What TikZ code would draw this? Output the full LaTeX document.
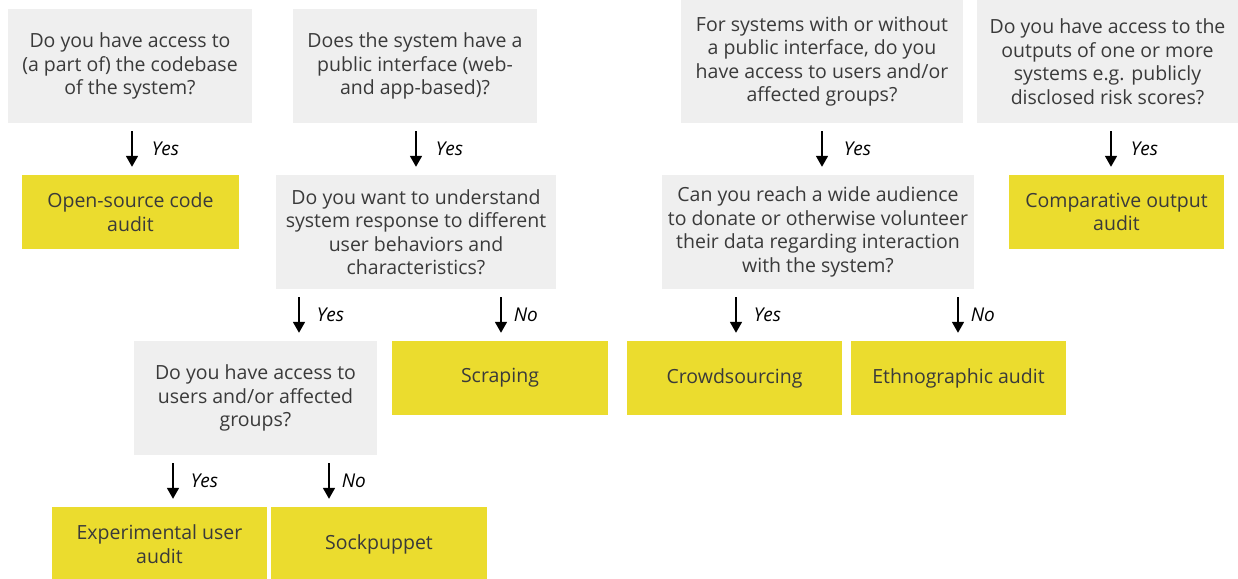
\documentclass[tikz,border=0pt]{standalone}
\usepackage{fontspec}
\setmainfont{Open Sans}
\usetikzlibrary{arrows.meta,calc}
\definecolor{qgray}{HTML}{EFEFEF}
\definecolor{ayellow}{HTML}{EBDC2E}
\definecolor{ink}{HTML}{3A3A3A}
\begin{document}
\begin{tikzpicture}[x=1pt,y=-1pt,
  box/.style={inner sep=0pt, align=center, text=ink,
    font=\fontsize{19.5}{23.5}\selectfont},
  question/.style={box, fill=qgray},
  answer/.style={box, fill=ayellow},
  arr/.style={line width=1.7pt, draw=black,
    -{Triangle[width=12pt,length=11pt]}, shorten <=8pt, shorten >=8pt},
  lbl/.style={font=\fontsize{19}{22}\selectfont\itshape, text=black,
    anchor=west, inner sep=0pt}]
\useasboundingbox (0,0) rectangle (1238,578);
\fill[white] (0,0) rectangle (1238,578);

% question boxes
\node[question, minimum width=244pt, minimum height=114pt] (A) at (130,66)
  {Do you have access to\\(a part of) the codebase\\of the system?};
\node[question, minimum width=244pt, minimum height=114pt] (B) at (415,66)
  {Does the system have a\\public interface (web-\\and app-based)?};
\node[question, minimum width=282pt, minimum height=123pt] (D) at (822,61.5)
  {For systems with or without\\a public interface, do you\\have access to users and/or\\affected groups?};
\node[question, minimum width=261pt, minimum height=123pt] (E) at (1107.5,61.5)
  {Do you have access to the\\outputs of one or more\\systems e.g. publicly\\disclosed risk scores?};
\node[question, minimum width=280pt, minimum height=114pt] (C) at (416,232)
  {Do you want to understand\\system response to different\\user behaviors and\\characteristics?};
\node[question, minimum width=312pt, minimum height=114pt] (F) at (818,232)
  {Can you reach a wide audience\\to donate or otherwise volunteer\\their data regarding interaction\\with the system?};
\node[question, minimum width=243pt, minimum height=114pt] (G) at (255.5,398)
  {Do you have access to\\users and/or affected\\groups?};

% audit methods
\node[answer, minimum width=217pt, minimum height=74pt] (open) at (130.5,212)
  {Open-source code\\audit};
\node[answer, minimum width=215pt, minimum height=74pt] (comp) at (1116.5,212)
  {Comparative output\\audit};
\node[answer, minimum width=216pt, minimum height=74pt] (scrap) at (500,378)
  {Scraping};
\node[answer, minimum width=215pt, minimum height=74pt] (crowd) at (734.5,378)
  {Crowdsourcing};
\node[answer, minimum width=215pt, minimum height=74pt] (ethno) at (958.5,378)
  {Ethnographic audit};
\node[answer, minimum width=215pt, minimum height=74pt] (exper) at (159.5,544)
  {Experimental user\\audit};
\node[answer, minimum width=216pt, minimum height=74pt] (sock) at (379,544)
  {Sockpuppet};

% decision arrows
\draw[arr] ([xshift=2pt]A.south) -- ([xshift=2pt]A.south |- open.north)
  node[lbl, midway, xshift=19pt] {Yes};
\draw[arr] ([xshift=1pt]B.south) -- ([xshift=1pt]B.south |- C.north)
  node[lbl, midway, xshift=19pt] {Yes};
\draw[arr] (D.south) -- (D.south |- F.north)
  node[lbl, midway, xshift=21pt] {Yes};
\draw[arr] ([xshift=3.5pt]E.south) -- ([xshift=3.5pt]E.south |- comp.north)
  node[lbl, midway, xshift=19pt] {Yes};

\draw[arr] ([xshift=-117pt]C.south) -- ([xshift=-117pt]C.south |- G.north)
  node[lbl, midway, xshift=17pt] {Yes};
\draw[arr] ([xshift=85pt]C.south) -- ([xshift=85pt]C.south |- scrap.north)
  node[lbl, midway, xshift=12pt] {No};
\draw[arr] ([xshift=-82pt]F.south) -- ([xshift=-82pt]F.south |- crowd.north)
  node[lbl, midway, xshift=17pt] {Yes};
\draw[arr] ([xshift=140pt]F.south) -- ([xshift=140pt]F.south |- ethno.north)
  node[lbl, midway, xshift=12pt] {No};

\draw[arr] ([xshift=-82.5pt]G.south) -- ([xshift=-82.5pt]G.south |- exper.north)
  node[lbl, midway, xshift=17pt] {Yes};
\draw[arr] ([xshift=73.5pt]G.south) -- ([xshift=73.5pt]G.south |- sock.north)
  node[lbl, midway, xshift=12pt] {No};
\end{tikzpicture}
\end{document}
